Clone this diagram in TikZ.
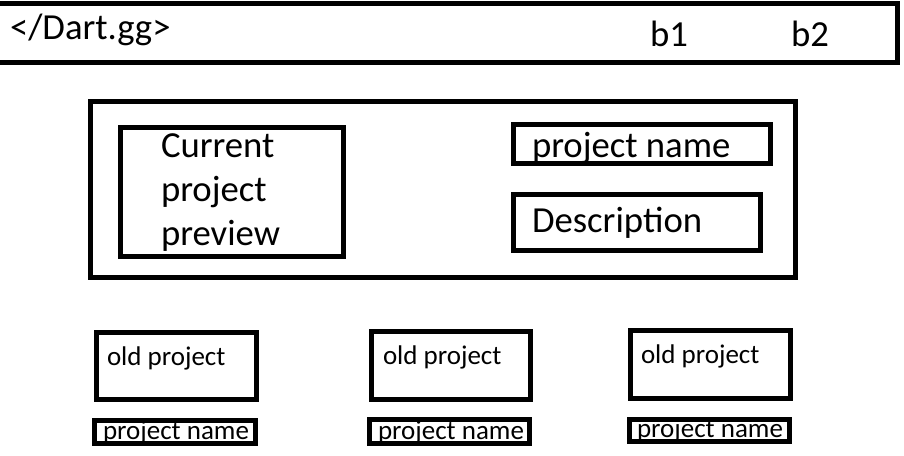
\documentclass[tikz,border=0pt]{standalone}
\usepackage{fontspec}
\setmainfont{Carlito}
\tikzset{
  frame/.style={draw=black, line width=5pt, fill=none, inner sep=0pt, outer sep=0pt},
  bigtxt/.style={anchor=base west, inner sep=0pt, outer sep=0pt, font=\fontsize{36.7}{44}\selectfont},
  smalltxt/.style={anchor=base west, inner sep=0pt, outer sep=0pt, font=\fontsize{27}{32}\selectfont},
}
\begin{document}
\begin{tikzpicture}[x=1pt, y=-1pt]
\useasboundingbox (0,0) rectangle (904,455);
% header bar
\node[frame, minimum width=902pt, minimum height=58.5pt] (bar) at (446,32.75) {};
\node[bigtxt] (logo) at (10,39) {</Dart.gg>};
\node[bigtxt] (b1) at (650,46) {b1};
\node[bigtxt] (b2) at (791,46) {b2};
% main panel
\node[frame, minimum width=705pt, minimum height=176pt] (main) at (443,189.5) {};
\node[frame, minimum width=223pt, minimum height=129pt] (preview) at (232,192) {};
\node[bigtxt] (cur1) at (161,157) {Current};
\node[bigtxt] (cur2) at (161,201) {project};
\node[bigtxt] (cur3) at (161,245) {preview};
\node[frame, minimum width=257pt, minimum height=39pt] (pname) at (642,144) {};
\node[bigtxt] (pnametxt) at (532,157) {project name};
\node[frame, minimum width=247pt, minimum height=56pt] (desc) at (637,222.5) {};
\node[bigtxt] (desctxt) at (532,232) {Description};
% old projects
\node[frame, minimum width=160pt, minimum height=67pt] (old1) at (176,366) {};
\node[frame, minimum width=159pt, minimum height=68pt] (old2) at (451,365.5) {};
\node[frame, minimum width=160pt, minimum height=68pt] (old3) at (710.5,364.5) {};
\node[smalltxt] (old1t) at (107,365) {old project};
\node[smalltxt] (old2t) at (383,364) {old project};
\node[smalltxt] (old3t) at (641,363) {old project};
\node[smalltxt] (n1t) at (103,439) {project name};
\node[smalltxt] (n2t) at (378,439) {project name};
\node[smalltxt] (n3t) at (637,437) {project name};
\node[frame, minimum width=161pt, minimum height=23pt] (n1) at (175,432) {};
\node[frame, minimum width=160pt, minimum height=23.5pt] (n2) at (449.5,431.25) {};
\node[frame, minimum width=160pt, minimum height=21.5pt] (n3) at (709.5,430.25) {};
\end{tikzpicture}
\end{document}
